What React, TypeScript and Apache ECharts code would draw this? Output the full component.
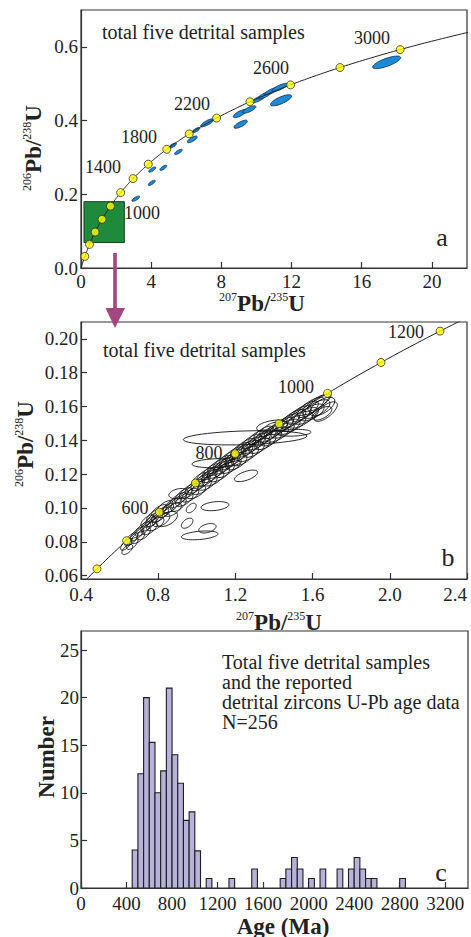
import React, { useEffect, useRef } from 'react';
import * as echarts from 'echarts';

// ---------- constants / data ----------
const L238 = 1.55125e-4; // decay constant per Ma
const L235 = 9.8485e-4;
const conc = (t: number) => [Math.expm1(L235 * t), Math.expm1(L238 * t)];

// concordia age markers (Ma)
const AGE_MARKS_A = [200, 400, 600, 800, 1000, 1200, 1400, 1600, 1800, 2000, 2200, 2400, 2600, 2800, 3000];
const AGE_MARKS_B = [400, 500, 600, 700, 800, 900, 1000, 1100, 1200];
const AGE_LABELS_A = ['1000', '1400', '1800', '2200', '2600', '3000'];
const AGE_LABELS_B = ['600', '800', '1000', '1200'];

// ages used to trace the concordia curve (Ma)
const CURVE_AGES: number[] = [];
for (let t = 0; t <= 3200; t += 10) CURVE_AGES.push(t);

// panel a ellipses: [207Pb/235U, 206Pb/238U, sx, sy, rho]
const ELLIPSES_A = [
  [3.12, 0.188, 0.22, 0.007, 0.75],
  [4.03, 0.231, 0.2, 0.007, 0.75],
  [4.06, 0.267, 0.2, 0.007, 0.75],
  [4.69, 0.272, 0.2, 0.007, 0.75],
  [5.22, 0.332, 0.22, 0.007, 0.75],
  [5.55, 0.315, 0.22, 0.007, 0.75],
  [6.34, 0.349, 0.28, 0.009, 0.75],
  [6.55, 0.374, 0.22, 0.007, 0.75],
  [7.2, 0.394, 0.38, 0.011, 0.8],
  [9.06, 0.419, 0.38, 0.011, 0.75],
  [9.59, 0.43, 0.38, 0.01, 0.75],
  [9.1, 0.39, 0.38, 0.011, 0.75],
  [10.1, 0.458, 0.38, 0.01, 0.8],
  [10.48, 0.469, 0.38, 0.01, 0.8],
  [10.87, 0.48, 0.4, 0.01, 0.8],
  [11.34, 0.49, 0.45, 0.011, 0.8],
  [11.4, 0.455, 0.6, 0.015, 0.75],
  [17.42, 0.558, 0.8, 0.017, 0.75],
];

// panel b ellipses: [207Pb/235U, 206Pb/238U, sx, sy, rho]
const ELLIPSES_B = [
  [0.635, 0.0785, 0.03, 0.0035, 0.7], [0.64, 0.0755, 0.028, 0.003, 0.6],
  [0.66, 0.0815, 0.035, 0.004, 0.7], [0.665, 0.079, 0.03, 0.0035, 0.6],
  [0.69, 0.0845, 0.035, 0.004, 0.7], [0.695, 0.0825, 0.035, 0.0035, 0.6],
  [0.72, 0.0875, 0.04, 0.0042, 0.7], [0.725, 0.085, 0.035, 0.0038, 0.6],
  [0.75, 0.0905, 0.04, 0.0042, 0.7], [0.755, 0.088, 0.04, 0.0038, 0.6], [0.745, 0.0925, 0.035, 0.0035, 0.7],
  [0.78, 0.0935, 0.045, 0.0045, 0.7], [0.785, 0.0905, 0.045, 0.004, 0.6], [0.775, 0.0955, 0.035, 0.0035, 0.7],
  [0.81, 0.096, 0.045, 0.0045, 0.7], [0.815, 0.093, 0.045, 0.004, 0.5], [0.805, 0.0985, 0.04, 0.0035, 0.7],
  [0.84, 0.0985, 0.04, 0.0042, 0.7], [0.845, 0.0935, 0.055, 0.0045, 0.5], [0.835, 0.101, 0.04, 0.0035, 0.7],
  [0.87, 0.1015, 0.045, 0.0045, 0.7], [0.875, 0.099, 0.045, 0.004, 0.6],
  [0.9, 0.1045, 0.045, 0.0045, 0.7], [0.905, 0.102, 0.04, 0.004, 0.6], [0.905, 0.1085, 0.05, 0.003, 0.3],
  [0.93, 0.1075, 0.045, 0.0045, 0.7], [0.935, 0.105, 0.045, 0.004, 0.6],
  [0.96, 0.11, 0.05, 0.0045, 0.7], [0.965, 0.1075, 0.045, 0.004, 0.6],
  [0.99, 0.1125, 0.05, 0.0045, 0.7], [0.995, 0.1095, 0.05, 0.004, 0.6],
  [1.02, 0.115, 0.05, 0.0048, 0.7], [1.025, 0.1125, 0.05, 0.0045, 0.6], [1.015, 0.117, 0.04, 0.004, 0.7],
  [1.05, 0.1175, 0.055, 0.005, 0.7], [1.055, 0.115, 0.05, 0.0045, 0.6], [1.045, 0.1195, 0.045, 0.004, 0.7],
  [1.08, 0.12, 0.055, 0.005, 0.7], [1.085, 0.1175, 0.055, 0.0045, 0.6], [1.075, 0.122, 0.045, 0.0042, 0.7],
  [1.11, 0.1225, 0.055, 0.005, 0.7], [1.115, 0.12, 0.055, 0.0045, 0.6], [1.105, 0.1245, 0.05, 0.0042, 0.7],
  [1.14, 0.125, 0.055, 0.005, 0.7], [1.145, 0.1225, 0.05, 0.0045, 0.6], [1.135, 0.127, 0.05, 0.0042, 0.7],
  [1.17, 0.1275, 0.055, 0.005, 0.7], [1.175, 0.125, 0.055, 0.0045, 0.6], [1.165, 0.1295, 0.05, 0.0042, 0.7],
  [1.2, 0.13, 0.055, 0.005, 0.7], [1.205, 0.127, 0.055, 0.0045, 0.6], [1.195, 0.132, 0.05, 0.0042, 0.7],
  [1.23, 0.1325, 0.06, 0.005, 0.7], [1.235, 0.1295, 0.055, 0.0045, 0.6], [1.225, 0.1345, 0.05, 0.0042, 0.7],
  [1.26, 0.135, 0.06, 0.005, 0.7], [1.265, 0.132, 0.055, 0.0045, 0.6], [1.255, 0.137, 0.05, 0.0042, 0.7],
  [1.29, 0.1372, 0.06, 0.005, 0.7], [1.295, 0.1345, 0.055, 0.0045, 0.6], [1.285, 0.1395, 0.05, 0.0042, 0.7],
  [1.32, 0.1395, 0.06, 0.005, 0.7], [1.325, 0.1368, 0.055, 0.0045, 0.6], [1.315, 0.142, 0.05, 0.0042, 0.7],
  [1.35, 0.1418, 0.06, 0.005, 0.7], [1.355, 0.139, 0.055, 0.0045, 0.6], [1.345, 0.1442, 0.05, 0.0042, 0.7],
  [1.38, 0.144, 0.06, 0.005, 0.7], [1.385, 0.1412, 0.055, 0.0045, 0.6], [1.375, 0.1465, 0.05, 0.0042, 0.7],
  [1.41, 0.1462, 0.06, 0.005, 0.7], [1.415, 0.1435, 0.06, 0.0045, 0.6],
  [1.44, 0.1485, 0.06, 0.005, 0.7], [1.445, 0.1458, 0.06, 0.0045, 0.6],
  [1.47, 0.1507, 0.06, 0.005, 0.7], [1.475, 0.148, 0.06, 0.0045, 0.6],
  [1.5, 0.1528, 0.065, 0.0055, 0.7], [1.505, 0.15, 0.06, 0.0048, 0.6],
  [1.53, 0.155, 0.065, 0.0055, 0.7], [1.535, 0.1522, 0.065, 0.005, 0.6],
  [1.56, 0.1572, 0.07, 0.006, 0.75], [1.565, 0.1545, 0.065, 0.005, 0.6],
  [1.59, 0.1595, 0.07, 0.006, 0.75], [1.595, 0.1565, 0.065, 0.005, 0.6],
  [1.615, 0.1612, 0.07, 0.006, 0.8], [1.62, 0.1585, 0.07, 0.0055, 0.65],
  [1.635, 0.1625, 0.06, 0.005, 0.8], [1.65, 0.16, 0.065, 0.0055, 0.6],
  [1.65, 0.156, 0.05, 0.004, 0.6],
  [1.668, 0.157, 0.06, 0.0058, 0.7],
  [1.39, 0.1485, 0.08, 0.0035, 0.4],
  [1.25, 0.1415, 0.32, 0.0042, 0.25],
  [1.1, 0.1265, 0.125, 0.0027, 0.2],
  [1.094, 0.1011, 0.072, 0.0027, 0.3],
  [0.971, 0.1, 0.026, 0.0028, 0.5],
  [0.95, 0.091, 0.03, 0.003, 0.5],
  [1.055, 0.088, 0.045, 0.0028, 0.4],
  [1.015, 0.0838, 0.095, 0.0026, 0.35],
  [1.255, 0.119, 0.06, 0.0034, 0.6],
  [1.502, 0.1445, 0.09, 0.002, 0.2],
];

// zoom box drawn in panel a: [x0, y0, x1, y1]
const ZOOM_BOX = [[0.17, 0.069, 2.47, 0.18]];

// histogram (panel c)
const BIN_WIDTH = 50;
const BIN_START = [450, 500, 550, 600, 650, 700, 750, 800, 850, 900, 950, 1000, 1100, 1300, 1500, 1750, 1800, 1850, 1900, 2000, 2100, 2250, 2350, 2400, 2450, 2500, 2550, 2800];
const BIN_COUNT = [4, 12, 20, 15.3, 10, 12.3, 21, 14, 11, 7.1, 8, 3.9, 1, 1, 2, 1, 2, 3.2, 2, 1, 2, 2, 2, 3.2, 2, 1, 1, 1];

// tick values
const A_X_TICKS = [0, 4, 8, 12, 16, 20];
const A_Y_TICKS = [0, 0.2, 0.4, 0.6];
const B_X_TICKS = [0.4, 0.8, 1.2, 1.6, 2.0, 2.4];
const B_Y_TICKS = [0.06, 0.08, 0.1, 0.12, 0.14, 0.16, 0.18, 0.2];
const C_X_TICKS = [0, 400, 800, 1200, 1600, 2000, 2400, 2800, 3200];
const C_Y_TICKS = [0, 5, 10, 15, 20, 25];

const NOTE_A = 'total five detrital samples';
const NOTE_C = ['Total five detrital samples', 'and the reported', 'detrital zircons U-Pb age data', 'N=256'];

// ---------- styling helpers ----------
const SERIF = 'Liberation Serif';
const INK = '#222';

function makeAxis(gridIndex: number, min: number, max: number, ticks: number[], fmt: (v: number) => string, extra: any = {}) {
  return {
    type: 'value',
    gridIndex,
    min,
    max,
    axisLine: { show: true, onZero: false, lineStyle: { color: '#333', width: 1.2 } },
    axisTick: { show: true, inside: true, length: 6, customValues: ticks, lineStyle: { color: '#333', width: 1.2 } },
    splitLine: { show: false },
    axisLabel: {
      customValues: ticks,
      formatter: fmt,
      color: INK,
      fontFamily: SERIF,
      fontSize: 19,
      margin: 4,
      ...(extra.axisLabel || {}),
    },
  };
}

function ellipseRenderer(fill: string, stroke: string, lw: number) {
  return (params: any, api: any) => {
    const cx = api.value(0);
    const cy = api.value(1);
    const sx = api.value(2);
    const sy = api.value(3);
    const r = api.value(4);
    const k = Math.sqrt(Math.max(0, 1 - r * r));
    const pts: number[][] = [];
    const n = 48;
    for (let i = 0; i < n; i++) {
      const th = (i / n) * Math.PI * 2;
      const c = Math.cos(th);
      const s = Math.sin(th);
      pts.push(api.coord([cx + sx * c, cy + sy * (r * c + k * s)]));
    }
    return {
      type: 'polygon',
      shape: { points: pts },
      style: { fill, stroke, lineWidth: lw },
    };
  };
}

function txt(x: number, y: number, text: string, size: number, opts: any = {}) {
  const align = opts.align || 'center';
  const style: any = {
    text,
    fill: INK,
    fontFamily: SERIF,
    fontSize: size,
    align,
    verticalAlign: 'middle',
  };
  if (opts.bold) style.fontWeight = 'bold';
  if (opts.rich) style.rich = opts.rich;
  return {
    type: 'text',
    x,
    y,
    rotation: opts.rotation || 0,
    z: 100,
    style,
  };
}

const ratioRich = {
  s: { fontSize: 12, fontFamily: SERIF, fill: INK, verticalAlign: 'top', lineHeight: 24 },
  b: { fontSize: 23, fontFamily: SERIF, fontWeight: 'bold', fill: INK, lineHeight: 24 },
};
const title207 = '{s|207}{b|Pb/}{s|235}{b|U}';
const title206 = '{s|206}{b|Pb/}{s|238}{b|U}';

export default function App() {
  const ref = useRef<HTMLDivElement>(null);

  useEffect(() => {
    if (!ref.current) return;
    document.body.style.margin = '0';
    const chart = echarts.init(ref.current, null, { renderer: 'svg' });

    const curveA = CURVE_AGES.map(conc).filter((p) => p[0] <= 22.5);
    const curveB = CURVE_AGES.filter((t) => t >= 300 && t <= 1300).map(conc);
    const marksA = AGE_MARKS_A.map(conc);
    const marksB = AGE_MARKS_B.map(conc);
    const hist = BIN_START.map((s, i) => [s, s + BIN_WIDTH, BIN_COUNT[i]]);

    const markerStyle = { color: '#ffff00', borderColor: '#333', borderWidth: 1 };

    const option: any = {
      animation: false,
      backgroundColor: '#ffffff',
      textStyle: { fontFamily: SERIF },
      grid: [
        { left: 81, top: 10, width: 386, height: 258, show: true, borderColor: '#333', borderWidth: 1.2, backgroundColor: 'transparent' },
        { left: 81, top: 322, width: 386, height: 257, show: true, borderColor: '#333', borderWidth: 1.2, backgroundColor: 'transparent' },
        { left: 81, top: 631, width: 387, height: 257, show: true, borderColor: '#333', borderWidth: 1.2, backgroundColor: 'transparent' },
      ],
      xAxis: [
        makeAxis(0, 0, 22, A_X_TICKS, (v: number) => String(v)),
        makeAxis(1, 0.4, 2.4, B_X_TICKS, (v: number) => v.toFixed(1), { axisLabel: { margin: 6, alignMaxLabel: 'right' } }),
        makeAxis(2, 0, 3400, C_X_TICKS, (v: number) => String(v), { axisLabel: { margin: 6 } }),
      ],
      yAxis: [
        makeAxis(0, 0, 0.7, A_Y_TICKS, (v: number) => v.toFixed(1), { axisLabel: { margin: 3 } }),
        makeAxis(1, 0.058, 0.21, B_Y_TICKS, (v: number) => v.toFixed(2), { axisLabel: { margin: 3 } }),
        makeAxis(2, 0, 27, C_Y_TICKS, (v: number) => String(v), { axisLabel: { margin: 2 } }),
      ],
      series: [
        {
          type: 'custom',
          name: 'zoom box',
          xAxisIndex: 0,
          yAxisIndex: 0,
          z: 1,
          clip: true,
          data: ZOOM_BOX,
          renderItem: (params: any, api: any) => {
            const p0 = api.coord([api.value(0), api.value(3)]);
            const p1 = api.coord([api.value(2), api.value(1)]);
            return {
              type: 'rect',
              shape: { x: p0[0], y: p0[1], width: p1[0] - p0[0], height: p1[1] - p0[1] },
              style: { fill: '#1f8a3b', stroke: '#1a3d22', lineWidth: 1 },
            };
          },
        },
        {
          type: 'custom',
          name: 'ellipses a',
          xAxisIndex: 0,
          yAxisIndex: 0,
          z: 2,
          clip: true,
          data: ELLIPSES_A,
          renderItem: ellipseRenderer('#1c8ad6', '#12355a', 0.9),
        },
        {
          type: 'line',
          name: 'concordia a',
          xAxisIndex: 0,
          yAxisIndex: 0,
          z: 3,
          showSymbol: false,
          silent: true,
          clip: true,
          data: curveA,
          lineStyle: { color: '#222', width: 1 },
        },
        {
          type: 'scatter',
          name: 'ages a',
          xAxisIndex: 0,
          yAxisIndex: 0,
          z: 4,
          symbolSize: 8,
          data: marksA,
          itemStyle: markerStyle,
        },
        {
          type: 'custom',
          name: 'ellipses b',
          xAxisIndex: 1,
          yAxisIndex: 1,
          z: 2,
          clip: true,
          data: ELLIPSES_B,
          renderItem: ellipseRenderer('none', '#111', 0.9),
        },
        {
          type: 'line',
          name: 'concordia b',
          xAxisIndex: 1,
          yAxisIndex: 1,
          z: 3,
          showSymbol: false,
          silent: true,
          clip: true,
          data: curveB,
          lineStyle: { color: '#222', width: 1 },
        },
        {
          type: 'scatter',
          name: 'ages b',
          xAxisIndex: 1,
          yAxisIndex: 1,
          z: 4,
          symbolSize: 8,
          data: marksB,
          itemStyle: markerStyle,
        },
        {
          type: 'custom',
          name: 'histogram',
          xAxisIndex: 2,
          yAxisIndex: 2,
          z: 2,
          clip: true,
          data: hist,
          renderItem: (params: any, api: any) => {
            const p0 = api.coord([api.value(0), api.value(2)]);
            const p1 = api.coord([api.value(1), 0]);
            return {
              type: 'rect',
              shape: { x: p0[0], y: p0[1], width: p1[0] - p0[0], height: p1[1] - p0[1] },
              style: { fill: '#b6b2da', stroke: '#1e1e1e', lineWidth: 1.1 },
            };
          },
        },
      ],
      graphic: [
        // notes
        txt(102, 32, NOTE_A, 20, { align: 'left' }),
        txt(103, 350, NOTE_A, 20, { align: 'left' }),
        txt(222, 662, NOTE_C[0], 20, { align: 'left' }),
        txt(222, 682, NOTE_C[1], 20, { align: 'left' }),
        txt(222, 702, NOTE_C[2], 20, { align: 'left' }),
        txt(222, 722, NOTE_C[3], 20, { align: 'left' }),
        // age labels, panel a
        txt(142, 213, AGE_LABELS_A[0], 18),
        txt(103, 167, AGE_LABELS_A[1], 18),
        txt(139, 137, AGE_LABELS_A[2], 18),
        txt(192, 104, AGE_LABELS_A[3], 18),
        txt(271, 68, AGE_LABELS_A[4], 18),
        txt(372, 38, AGE_LABELS_A[5], 18),
        // age labels, panel b
        txt(135, 508, AGE_LABELS_B[0], 18),
        txt(209, 453, AGE_LABELS_B[1], 18),
        txt(296, 387, AGE_LABELS_B[2], 18),
        txt(406, 332, AGE_LABELS_B[3], 18),
        // panel letters
        txt(442, 237, 'a', 26),
        txt(448, 557, 'b', 26),
        txt(441, 872, 'c', 26),
        // axis titles
        txt(262, 303, title207, 23, { rich: ratioRich }),
        txt(33, 148, title206, 23, { rich: ratioRich, rotation: Math.PI / 2 }),
        txt(279, 622, title207, 23, { rich: ratioRich }),
        txt(25, 444, title206, 23, { rich: ratioRich, rotation: Math.PI / 2 }),
        txt(46, 757, 'Number', 23, { bold: true, rotation: Math.PI / 2 }),
        txt(283, 926, 'Age (Ma)', 23, { bold: true }),
        // purple arrow from zoom box to panel b
        {
          type: 'line',
          z: 50,
          shape: { x1: 115, y1: 253, x2: 115, y2: 311 },
          style: { stroke: '#a4477e', lineWidth: 3.6 },
        },
        {
          type: 'polygon',
          z: 50,
          shape: { points: [[105.5, 308], [125, 308], [115, 328]] },
          style: { fill: '#a4477e' },
        },
      ],
    };

    chart.setOption(option);
    return () => chart.dispose();
  }, []);

  return (
    <div
      ref={ref}
      style={{ position: 'absolute', left: 0, top: 0, width: 471, height: 937, background: '#fff' }}
    />
  );
}
